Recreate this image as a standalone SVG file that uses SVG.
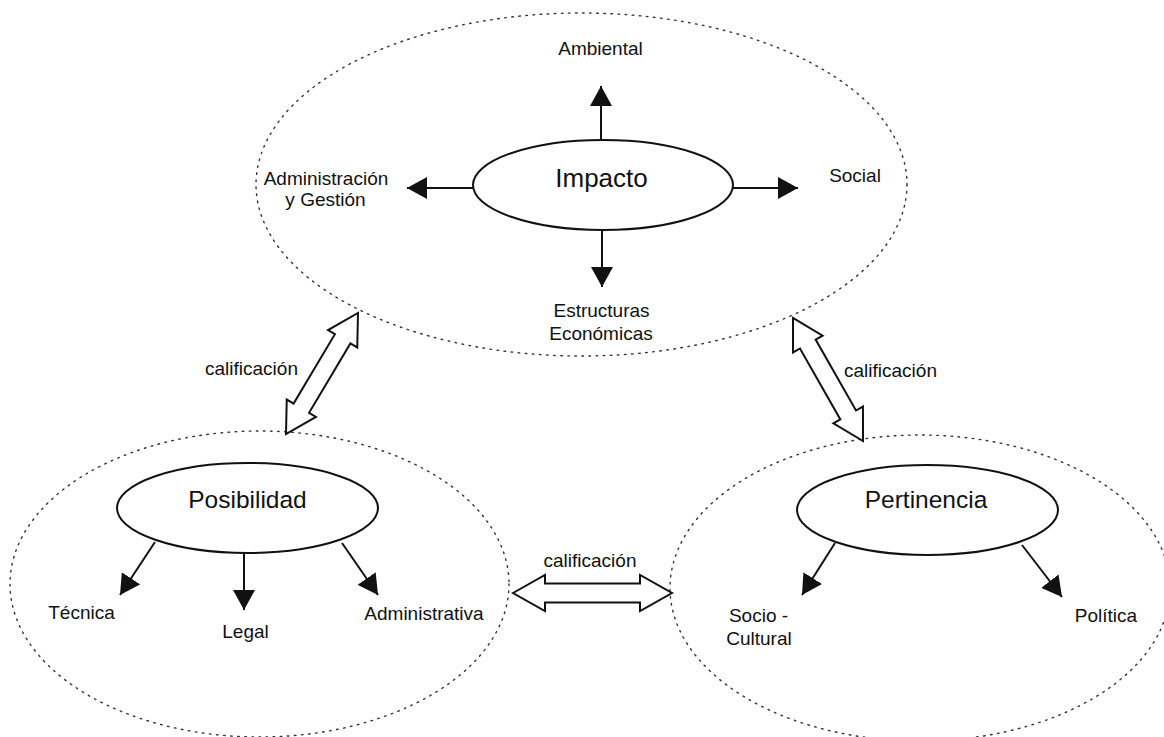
<svg xmlns="http://www.w3.org/2000/svg" width="1164" height="737" viewBox="0 0 1164 737">
  <defs>
    <style>
      .lbl { font-family: "Liberation Sans", Arial, sans-serif; font-size: 19px; fill: #111; text-anchor: middle; }
      .big { font-family: "Liberation Sans", Arial, sans-serif; font-size: 24.5px; fill: #111; text-anchor: middle; }
      .core { fill: #fff; stroke: #111; stroke-width: 2; }
      .zone { fill: none; stroke: #333; stroke-width: 1.4; stroke-dasharray: 1.6 5.5; stroke-linecap: round; }
      .link { fill: none; stroke: #111; stroke-width: 2; marker-end: url(#tri); }
      .dbl { fill: #fff; stroke: #111; stroke-width: 2; stroke-linejoin: miter; }
    </style>
    <marker id="tri" markerUnits="userSpaceOnUse" markerWidth="21" markerHeight="22" refX="20" refY="11" orient="auto" viewBox="0 0 21 22">
      <path d="M0,0 L20,11 L0,22 z" fill="#111"/>
    </marker>
  </defs>
  <rect width="1164" height="737" fill="#fff"/>

  <!-- dotted area boundaries -->
  <g id="areas">
    <ellipse class="zone" cx="581.5" cy="184.5" rx="325.5" ry="171.5"/>
    <ellipse class="zone" cx="259.5" cy="584" rx="249.5" ry="153"/>
    <ellipse class="zone" cx="920" cy="588" rx="250" ry="153"/>
  </g>

  <!-- connectors -->
  <g id="connectors">
    <line class="link" x1="601" y1="140" x2="601" y2="86"/>
    <line class="link" x1="473" y1="188" x2="407" y2="188"/>
    <line class="link" x1="733" y1="188" x2="798" y2="188"/>
    <line class="link" x1="602" y1="230" x2="602" y2="287"/>
    <line class="link" x1="155" y1="542" x2="120" y2="595"/>
    <line class="link" x1="244" y1="553" x2="244" y2="610"/>
    <line class="link" x1="342" y1="543" x2="378" y2="595"/>
    <line class="link" x1="835" y1="543" x2="802" y2="595"/>
    <line class="link" x1="1022" y1="545" x2="1062" y2="597"/>

    <!-- double block arrows between areas -->
    <polygon class="dbl" transform="translate(322 373.5) rotate(-59.25)"
      points="-70.4,0 -40.4,-17 -40.4,-9 40.4,-9 40.4,-17 70.4,0 40.4,17 40.4,9 -40.4,9 -40.4,17"/>
    <polygon class="dbl" transform="translate(828 379.5) rotate(60.35)"
      points="-70.8,0 -40.8,-17 -40.8,-9 40.8,-9 40.8,-17 70.8,0 40.8,17 40.8,9 -40.8,9 -40.8,17"/>
    <polygon class="dbl" transform="translate(592.5 593)"
      points="-79.5,0 -47.5,-18 -47.5,-9.5 47.5,-9.5 47.5,-18 79.5,0 47.5,18 47.5,9.5 -47.5,9.5 -47.5,18"/>

    <text class="lbl" x="251.5" y="375">calificación</text>
    <text class="lbl" x="890.5" y="377">calificación</text>
    <text class="lbl" x="590" y="567">calificación</text>
  </g>

  <!-- Impacto -->
  <g id="impacto">
    <ellipse class="core" cx="603" cy="185" rx="130" ry="45"/>
    <text class="big" x="601.5" y="187" style="font-size:26px">Impacto</text>
  </g>
  <g id="ambiental"><text class="lbl" x="600.5" y="55">Ambiental</text></g>
  <g id="administracion">
    <text class="lbl" x="326" y="185">Administración</text>
    <text class="lbl" x="325.5" y="206">y Gestión</text>
  </g>
  <g id="social"><text class="lbl" x="855" y="182">Social</text></g>
  <g id="estructuras">
    <text class="lbl" x="601.5" y="317">Estructuras</text>
    <text class="lbl" x="601" y="340">Económicas</text>
  </g>

  <!-- Posibilidad -->
  <g id="posibilidad">
    <ellipse class="core" cx="247.5" cy="508" rx="130.5" ry="45"/>
    <text class="big" x="247.5" y="508">Posibilidad</text>
  </g>
  <g id="tecnica"><text class="lbl" x="81.5" y="619">Técnica</text></g>
  <g id="legal"><text class="lbl" x="245.5" y="638">Legal</text></g>
  <g id="administrativa"><text class="lbl" x="424" y="620">Administrativa</text></g>

  <!-- Pertinencia -->
  <g id="pertinencia">
    <ellipse class="core" cx="927.5" cy="510" rx="130.5" ry="45"/>
    <text class="big" x="926" y="508">Pertinencia</text>
  </g>
  <g id="sociocultural">
    <text class="lbl" x="758.5" y="622">Socio -</text>
    <text class="lbl" x="759" y="645">Cultural</text>
  </g>
  <g id="politica"><text class="lbl" x="1106" y="622">Política</text></g>
</svg>
